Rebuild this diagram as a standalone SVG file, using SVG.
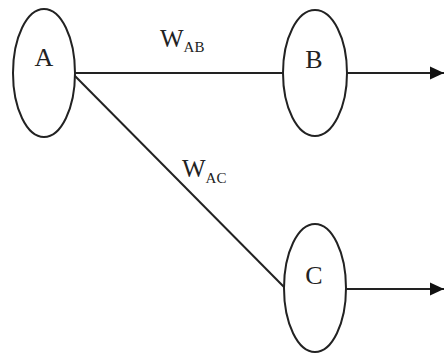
<svg xmlns="http://www.w3.org/2000/svg" width="444" height="354" viewBox="0 0 444 354">
<style>
.n{fill:#fff;stroke:#222;stroke-width:2}
.c{stroke:#222;stroke-width:2;fill:none}
text{font-family:"Liberation Serif","Times New Roman",serif;fill:#222}
.l{font-size:26px;text-anchor:middle}
.w{font-size:25px}
.s{font-size:15px}
</style>
<defs>
<marker id="ah" markerWidth="14" markerHeight="14" refX="14" refY="7" orient="auto" markerUnits="userSpaceOnUse">
<path d="M0,0.5 L14,7 L0,13.5 Z" fill="#111"/>
</marker>
</defs>
<g id="connectors">
<line class="c" x1="75" y1="73" x2="284" y2="73"/>
<line class="c" x1="74" y1="75" x2="285" y2="288"/>
<line class="c" x1="347" y1="73" x2="444" y2="73" marker-end="url(#ah)"/>
<line class="c" x1="346" y1="289" x2="444" y2="289" marker-end="url(#ah)"/>
<text class="w" x="160" y="47">W<tspan class="s" dy="5">AB</tspan></text>
<text class="w" x="182" y="177">W<tspan class="s" dy="6">AC</tspan></text>
</g>
<g id="A">
<ellipse class="n" cx="44" cy="73" rx="31" ry="64"/>
<text class="l" x="44" y="66">A</text>
</g>
<g id="B">
<ellipse class="n" cx="315" cy="73" rx="32" ry="63"/>
<text class="l" x="314" y="68">B</text>
</g>
<g id="C">
<ellipse class="n" cx="315" cy="288" rx="31" ry="64"/>
<text class="l" x="314" y="284">C</text>
</g>
</svg>
